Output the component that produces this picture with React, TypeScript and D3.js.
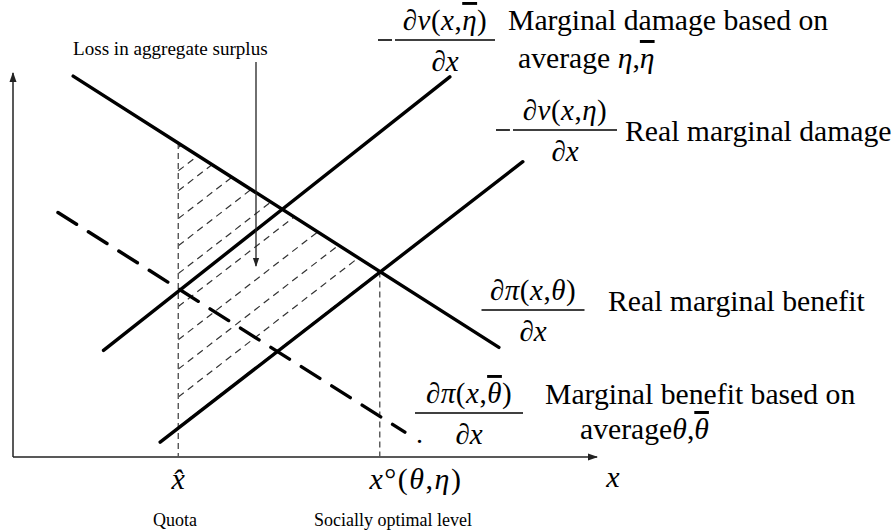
import React from "react";
import * as d3 from "d3";

// ---- data (chart units: x 0..10, y 0..10) ----
const realBenefit = [ { x: 1.03, y: 9.97 }, { x: 8.32, y: 2.87 } ];
const avgBenefit = [ { x: 0.77, y: 6.4 }, { x: 6.71, y: 0.65 } ];
const avgDamage = [ { x: 1.55, y: 2.79 }, { x: 7.48, y: 9.95 } ];
const realDamage = [ { x: 2.52, y: 0.39 }, { x: 8.73, y: 7.73 } ];
const quotaX = 2.83;
const optimalX = 6.28;
// hatch lines: intercepts on the quota line (y units)
const hatchStarts = [0.78, 1.57, 2.3, 3.07, 3.94, 4.8, 5.53, 6.24, 6.97, 7.49, 8.1];

const W = 896;
const H = 531;
const FONT = "Liberation Serif";
const BIG = 29.7;

const xScale = d3.scaleLinear().domain([0, 10]).range([13, 597]);
const yScale = d3.scaleLinear().domain([0, 10]).range([457, 75]);

const lineGen = d3
  .line<{ x: number; y: number }>()
  .x((d) => xScale(d.x))
  .y((d) => yScale(d.y));

function yAt(seg: { x: number; y: number }[], x: number) {
  const [a, b] = seg;
  return a.y + ((b.y - a.y) * (x - a.x)) / (b.x - a.x);
}

const Frac = ({ cx, barY, num, barW, fs = 29, minus = false }: any) => (
  <g fontFamily={FONT} fontSize={fs}>
    {minus && (
      <line x1={cx - barW / 2 - 17} x2={cx - barW / 2 - 3} y1={barY} y2={barY} stroke="#000" strokeWidth={1.6} />
    )}
    <text x={cx} y={barY - 10} textAnchor="middle" fontFamily={FONT} letterSpacing={0.5}>{num}</text>
    <line x1={cx - barW / 2} x2={cx + barW / 2} y1={barY} y2={barY} stroke="#000" strokeWidth={1.6} />
    <text x={cx} y={barY + 31} textAnchor="middle" fontStyle="italic" fontFamily={FONT}>∂x</text>
  </g>
);

const I = (props: any) => <tspan fontStyle="italic" {...props} />;
const Bar = ({ children }: any) => (
  <tspan fontStyle="italic" style={{ textDecoration: "overline" }}>{children}</tspan>
);

export default function App() {
  const qTop = yAt(realBenefit, quotaX);
  const oTop = yAt(realBenefit, optimalX);
  const qBot = yAt(realDamage, quotaX);
  const damSlope = (realDamage[1].y - realDamage[0].y) / (realDamage[1].x - realDamage[0].x);
  const tri = [
    [quotaX, qTop],
    [optimalX, oTop],
    [quotaX, qBot],
  ];
  const triPath = "M" + tri.map(([x, y]) => `${xScale(x)},${yScale(y)}`).join("L") + "Z";
  return (
    <svg width={W} height={H} fontFamily={FONT} style={{ position: "absolute", left: 0, top: 0, background: "#fff" }}>
      <defs>
        <marker id="arr" viewBox="0 0 10 10" refX="9" refY="5" markerWidth="7" markerHeight="7" orient="auto">
          <path d="M0,1.5 L10,5 L0,8.5 Z" fill="#222" />
        </marker>
        <clipPath id="tri">
          <path d={triPath} />
        </clipPath>
      </defs>
      <rect width={W} height={H} fill="#fff" />

      {/* axes */}
      <line x1={xScale(0)} y1={yScale(0)} x2={xScale(0)} y2={yScale(10) - 2} stroke="#222" strokeWidth={1.5} markerEnd="url(#arr)" />
      <line x1={xScale(0)} y1={yScale(0)} x2={xScale(10)} y2={yScale(0)} stroke="#222" strokeWidth={1.5} markerEnd="url(#arr)" />

      {/* hatching */}
      <g clipPath="url(#tri)">
        {hatchStarts.map((h, i) => (
          <line
            key={i}
            x1={xScale(quotaX)}
            y1={yScale(h)}
            x2={xScale(optimalX + 1)}
            y2={yScale(h + damSlope * (optimalX + 1 - quotaX))}
            stroke="#333"
            strokeWidth={1.2}
            strokeDasharray="7 5"
          />
        ))}
      </g>

      {/* vertical dashed lines */}
      <line x1={xScale(quotaX)} x2={xScale(quotaX)} y1={yScale(qTop)} y2={yScale(0)} stroke="#555" strokeWidth={1.4} strokeDasharray="6 4" />
      <line x1={xScale(optimalX)} x2={xScale(optimalX)} y1={yScale(oTop)} y2={yScale(0)} stroke="#555" strokeWidth={1.4} strokeDasharray="6 4" />

      {/* curves */}
      <path d={lineGen(realBenefit)!} stroke="#000" strokeWidth={3.4} fill="none" strokeLinecap="round" />
      <path d={lineGen(avgBenefit)!} stroke="#000" strokeWidth={3.4} fill="none" strokeLinecap="round" strokeDasharray="22 14" />
      <path d={lineGen(avgDamage)!} stroke="#000" strokeWidth={3.4} fill="none" strokeLinecap="round" />
      <path d={lineGen(realDamage)!} stroke="#000" strokeWidth={3.4} fill="none" strokeLinecap="round" />

      {/* loss annotation */}
      <text x={73} y={55} fontFamily={FONT} fontSize={19.1}>Loss in aggregate surplus</text>
      <line x1={256} y1={62} x2={256} y2={266} stroke="#222" strokeWidth={1.3} markerEnd="url(#arr)" />

      {/* formulas */}
      <Frac cx={445} barY={40} barW={100} minus num={<>∂<I>v</I>(<I>x</I>,<Bar>η</Bar>)</>} />
      <Frac cx={565} barY={130} barW={104} minus num={<>∂<I>v</I>(<I>x</I>,<I>η</I>)</>} />
      <Frac cx={533} barY={310} barW={103} num={<>∂<I>π</I>(<I>x</I>,<I>θ</I>)</>} />
      <Frac cx={469} barY={413} barW={108} num={<>∂<I>π</I>(<I>x</I>,<Bar>θ</Bar>)</>} />
      <text x={416} y={443} fontFamily={FONT} fontSize={28}>.</text>

      {/* labels */}
      <g fontFamily={FONT} fontSize={BIG}>
        <text x={508} y={30} fontFamily={FONT}>Marginal damage based on</text>
        <text x={518} y={68} fontFamily={FONT}>average <I>η</I>,<Bar>η</Bar></text>
        <text x={625} y={141} fontFamily={FONT}>Real marginal damage</text>
        <text x={608} y={311} fontFamily={FONT}>Real marginal benefit</text>
        <text x={545} y={404} fontFamily={FONT}>Marginal benefit based on</text>
        <text x={580} y={439} fontFamily={FONT}>average<I>θ</I>,<Bar>θ</Bar></text>
      </g>

      {/* x-axis labels */}
      <g fontFamily={FONT} fontSize={30}>
        <text x={xScale(quotaX)} y={489} textAnchor="middle" fontFamily={FONT}><I>x̂</I></text>
        <text x={416} y={489} textAnchor="middle" fontFamily={FONT} letterSpacing={1.5}><I>x</I>°(<I>θ</I>,<I>η</I>)</text>
        <text x={613} y={487} textAnchor="middle" fontFamily={FONT}><I>x</I></text>
      </g>
      <g fontFamily={FONT} fontSize={18}>
        <text x={175} y={526} textAnchor="middle" fontFamily={FONT}>Quota</text>
        <text x={393} y={526} textAnchor="middle" fontFamily={FONT}>Socially optimal level</text>
      </g>
    </svg>
  );
}
